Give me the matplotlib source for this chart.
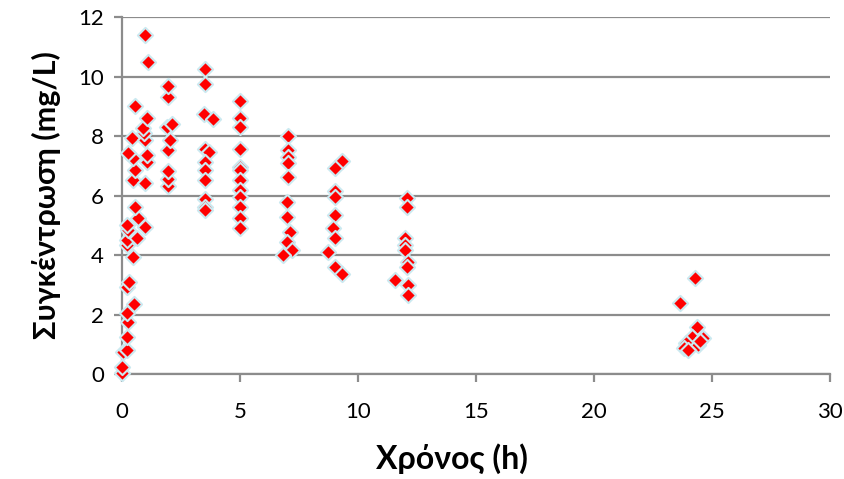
import matplotlib
matplotlib.use("Agg")
import matplotlib.pyplot as plt

# Sampling times (h) and measured concentrations (mg/L)
time_h = [
    0.00, 0.00, 0.05, 0.20, 0.20, 0.27, 0.20, 0.52, 0.20, 0.30, 0.48, 0.20,
    0.20, 0.62, 0.27, 0.20, 0.69, 0.55, 0.48, 0.55, 0.48, 0.27, 0.41, 0.55,
    0.97, 0.97, 1.05, 1.05, 0.97, 0.95, 0.90, 1.05, 1.09, 0.97,
    1.96, 1.96, 1.96, 1.96, 2.03, 1.89, 2.10, 1.96, 1.96,
    3.52, 3.52, 3.47, 3.87, 3.52, 3.70, 3.52, 3.52, 3.52, 3.52, 3.52, 3.52,
    5.00, 5.00, 5.00, 5.00, 5.00, 5.00, 5.00, 5.00, 5.00, 5.00, 5.00, 5.00,
    7.05, 7.05, 7.05, 7.05, 7.05, 6.98, 6.98, 7.12, 6.98, 7.19, 6.84,
    9.31, 9.03, 9.03, 9.03, 9.03, 8.95, 9.03, 8.74, 9.03, 9.31,
    12.06, 12.06, 12.00, 12.00, 12.00, 12.10, 12.06, 11.57, 12.13, 12.13,
    24.28, 23.64, 24.35, 24.14, 24.63, 23.92, 24.40, 23.80, 24.00, 24.50,
]
conc_mgL = [
    0.03, 0.25, 0.75, 0.80, 1.25, 1.76, 2.04, 2.34, 2.93, 3.10, 3.94, 4.33,
    4.50, 4.56, 4.84, 5.00, 5.23, 5.62, 6.52, 6.86, 7.25, 7.42, 7.92, 9.00,
    4.95, 6.41, 7.14, 7.36, 7.87, 8.10, 8.26, 8.60, 10.50, 11.40,
    6.32, 6.55, 6.83, 7.53, 7.87, 8.31, 8.40, 9.30, 9.68,
    10.25, 9.74, 8.73, 8.57, 7.56, 7.45, 7.12, 6.86, 6.52, 5.88, 5.62, 5.51,
    9.18, 8.59, 8.31, 7.56, 6.95, 6.86, 6.52, 6.18, 5.96, 5.62, 5.23, 4.90,
    8.01, 7.53, 7.30, 7.08, 6.63, 5.77, 5.29, 4.78, 4.45, 4.17, 4.00,
    7.16, 6.91, 6.15, 5.96, 5.34, 4.90, 4.56, 4.11, 3.61, 3.35,
    5.90, 5.62, 4.56, 4.34, 4.17, 3.75, 3.61, 3.16, 2.99, 2.66,
    3.22, 2.40, 1.59, 1.25, 1.20, 1.03, 0.97, 0.86, 0.80, 1.10,
]

x_ticks = [0, 5, 10, 15, 20, 25, 30]
y_ticks = [0, 2, 4, 6, 8, 10, 12]
x_label = "Χρόνος (h)"
y_label = "Συγκέντρωση (mg/L)"

plt.rcParams["font.family"] = ["Lato", "DejaVu Sans"]

fig = plt.figure(figsize=(8.44, 4.79), dpi=100)
ax = fig.add_axes([0.1445, 0.2192, 0.8389, 0.7453])

grid_col = "#8c8c8c"
ax.scatter(time_h, conc_mgL, marker="D", s=60, facecolor="#ff0000",
           edgecolor="#cbe9f0", linewidths=1.5, zorder=3, clip_on=False)

ax.set_xlim(0, 30)
ax.set_ylim(0, 12)
ax.set_xticks(x_ticks)
ax.set_yticks(y_ticks)
ax.set_xticklabels([str(v) for v in x_ticks])
ax.set_yticklabels([str(v) for v in y_ticks])

ax.yaxis.grid(True, color=grid_col, linewidth=1.6)
ax.set_axisbelow(True)
for side in ("top", "right"):
    ax.spines[side].set_visible(False)
for side in ("left", "bottom"):
    ax.spines[side].set_color(grid_col)
    ax.spines[side].set_linewidth(1.6)

ax.tick_params(axis="both", colors=grid_col, width=1.6, length=6,
               labelsize=16, labelcolor="black")
ax.tick_params(axis="x", pad=14)
ax.tick_params(axis="y", pad=7)

ax.set_xlabel(x_label, fontsize=23, fontweight="bold")
ax.xaxis.set_label_coords(0.466, -0.195)
ax.set_ylabel(y_label, fontsize=22, fontweight="bold", labelpad=12)

fig.savefig("out.png", dpi=100)
